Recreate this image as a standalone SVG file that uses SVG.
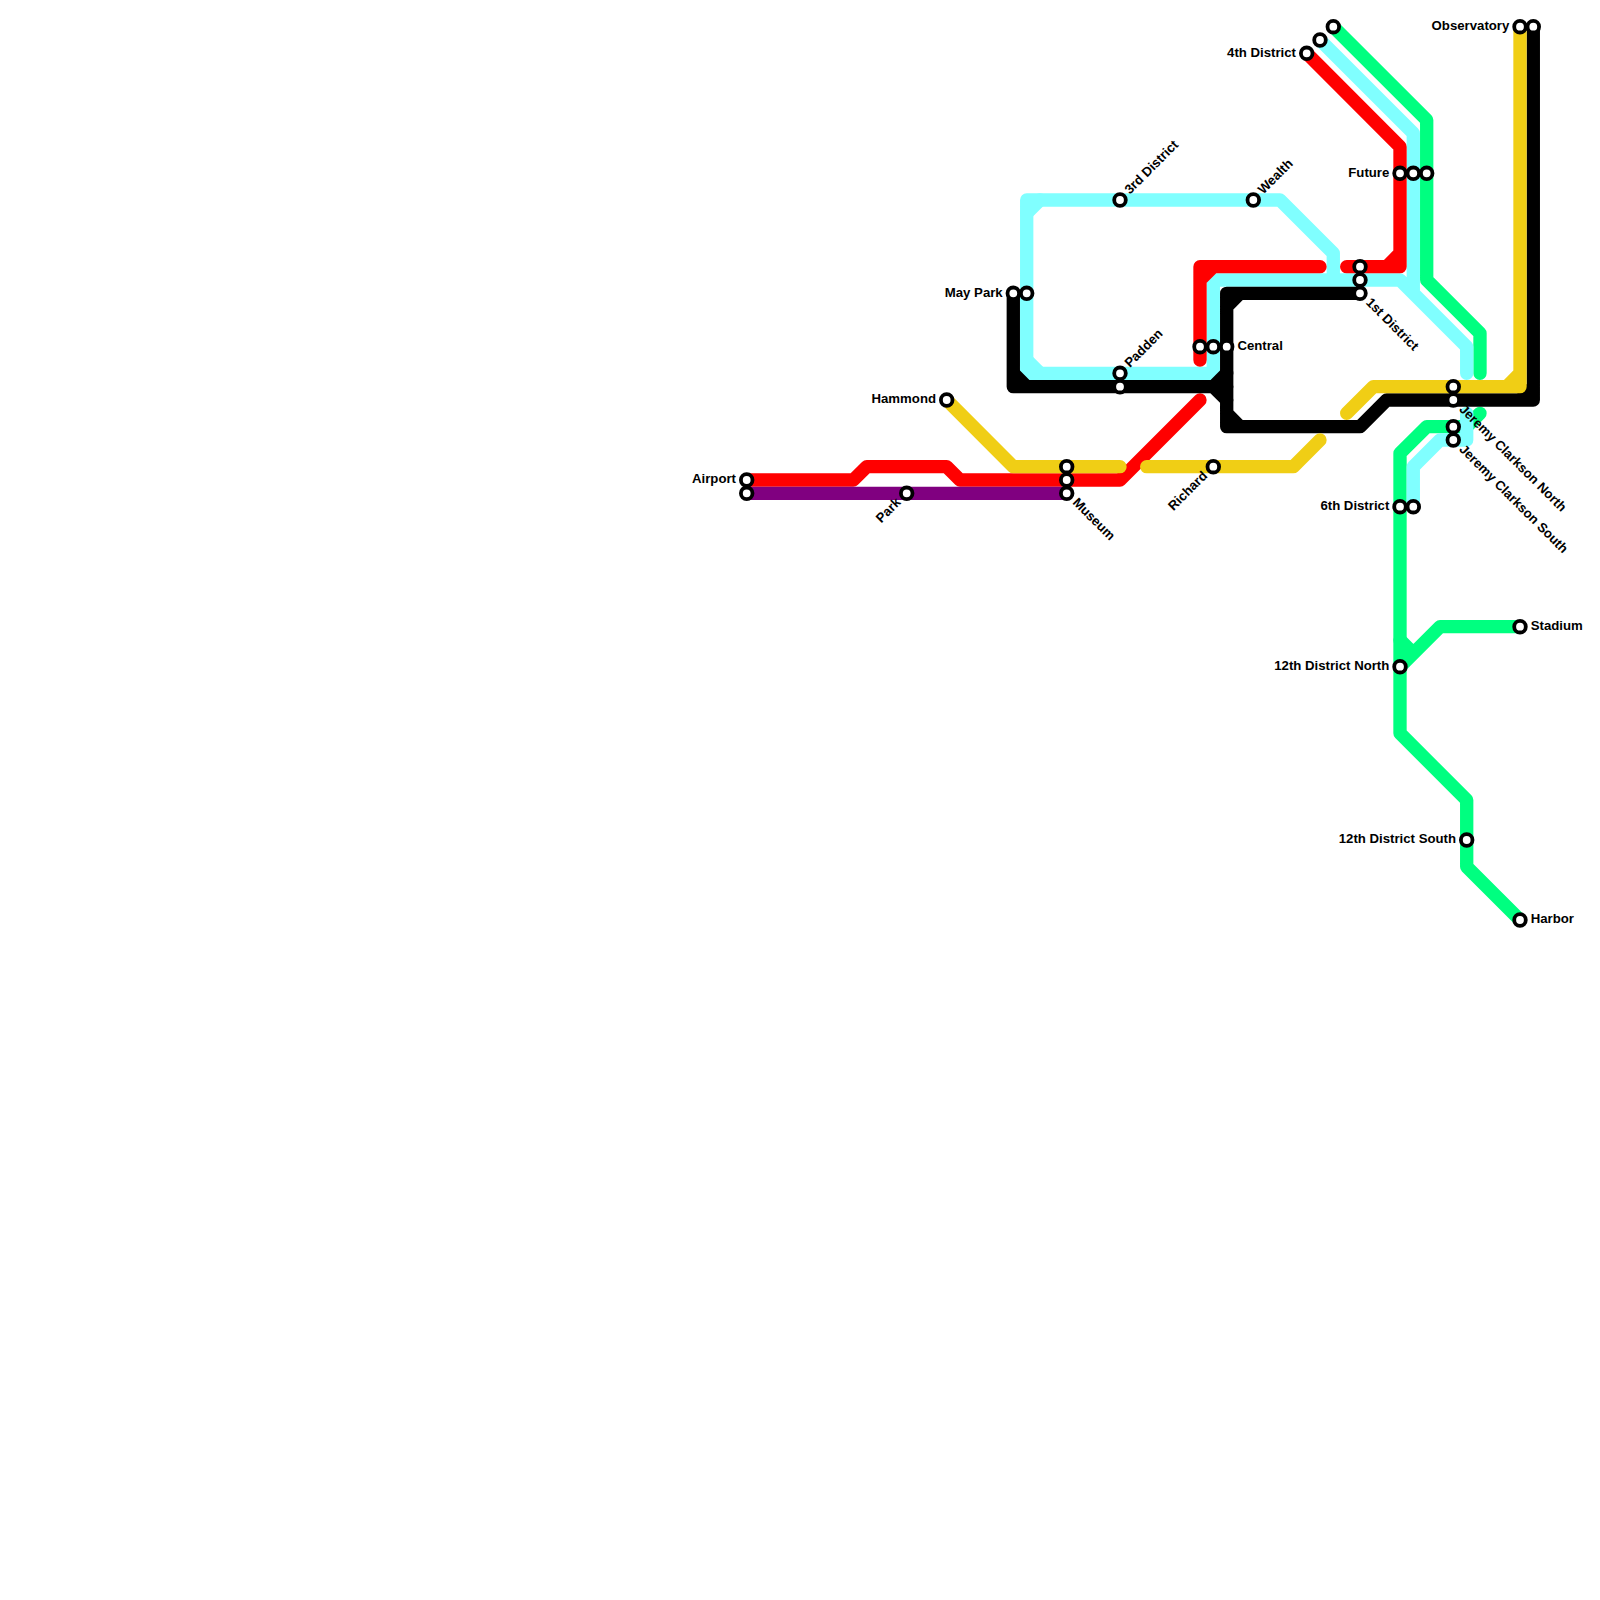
<svg xmlns="http://www.w3.org/2000/svg" width="1600" height="1600" viewBox="0 0 1600 1600">
<style>
.l{fill:none;stroke-width:13.33;stroke-linecap:round;stroke-linejoin:round}
.g{stroke:#00ff80}.c{stroke:#80ffff}.r{stroke:#ff0000}.y{stroke:#f0ce15}.p{stroke:#800080}.b{stroke:#000}
.s{fill:#fff;stroke:#000;stroke-width:3.8}
text{font-family:"Liberation Sans",Arial,sans-serif;font-size:13.2px;font-weight:bold;fill:#000}
.e{text-anchor:end}
</style>
<defs><circle id="st" class="s" r="5.8"/></defs>
<rect width="1600" height="1600" fill="#fff"/>
<g id="connectors">
<path class="l g" d="M1333.3 26.7L1426.7 120V280L1480 333.3V373.3"/>
<path class="l g" d="M1480 413.3L1466.7 426.7H1426.7L1400 453.3V733.3L1466.7 800V866.7L1520 920"/>
<path class="l g" d="M1520 626.7H1440L1400 666.7M1400 640L1413.3 653.3"/>
<path class="l c" d="M1320 40L1413.3 133.3V293.3M1333.3 280V253.3L1280 200H1026.7V373.3H1213.3V280H1400L1466.7 346.7V373.3"/>
<path class="l c" d="M1026.7 213.3L1040 200M1026.7 360L1040 373.3"/>
<path class="l c" d="M1466.7 413.3V440H1440L1413.3 466.7V506.7"/>
<path class="l r" d="M1306.7 53.3L1400 146.7V266.7H1346.7M1386.7 266.7L1400 253.3"/>
<path class="l r" d="M1320 266.7H1200V360M1200 280L1213.3 266.7"/>
<path class="l r" d="M746.7 480H853.3L866.7 466.7H946.7L960 480H1120L1200 400"/>
<path class="l p" d="M746.7 493.3H1066.7"/>
<path class="l b" d="M1013.3 293.3V386.7H1226.7M1013.3 373.3L1026.7 386.7M1213.3 386.7L1226.7 373.3M1213.3 386.7L1226.7 400"/>
<path class="l b" d="M1360 293.3H1226.7V426.7H1360L1386.7 400H1533.3V26.7M1226.7 306.7L1240 293.3M1226.7 413.3L1240 426.7M1520 400L1533.3 386.7"/>
<path class="l y" d="M946.7 400L1013.3 466.7H1120"/>
<path class="l y" d="M1146.7 466.7H1293.3L1320 440"/>
<path class="l y" d="M1346.7 413.3L1373.3 386.7H1520V26.7M1506.7 386.7L1520 373.3"/>
</g>
<g id="airport"><use href="#st" x="746.7" y="480"/><text class="e" x="736" y="483.3">Airport</text></g>
<g id="airport-2"><use href="#st" x="746.7" y="493.3"/></g>
<g id="park"><use href="#st" x="906.7" y="493.3"/><text class="e" transform="translate(906.7 493.3) rotate(-45)" x="-10.67" y="3.3">Park</text></g>
<g id="hammond"><use href="#st" x="946.7" y="400"/><text class="e" x="936" y="403.3">Hammond</text></g>
<g id="museum"><use href="#st" x="1066.7" y="466.7"/><use href="#st" x="1066.7" y="480"/><use href="#st" x="1066.7" y="493.3"/><text transform="translate(1066.7 493.3) rotate(45)" x="10.67" y="3.3">Museum</text></g>
<g id="may-park"><use href="#st" x="1013.3" y="293.3"/><use href="#st" x="1026.7" y="293.3"/><text class="e" x="1002.7" y="296.6">May Park</text></g>
<g id="third-district"><use href="#st" x="1120" y="200"/><text transform="translate(1120 200) rotate(-45)" x="10.67" y="3.3">3rd District</text></g>
<g id="padden"><use href="#st" x="1120" y="373.3"/><use href="#st" x="1120" y="386.7"/><text transform="translate(1120 373.3) rotate(-45)" x="10.67" y="3.3">Padden</text></g>
<g id="central"><use href="#st" x="1200" y="346.7"/><use href="#st" x="1213.3" y="346.7"/><use href="#st" x="1226.7" y="346.7"/><text x="1237.4" y="350">Central</text></g>
<g id="richard"><use href="#st" x="1213.3" y="466.7"/><text class="e" transform="translate(1213.3 466.7) rotate(-45)" x="-10.67" y="3.3">Richard</text></g>
<g id="wealth"><use href="#st" x="1253.3" y="200"/><text transform="translate(1253.3 200) rotate(-45)" x="10.67" y="3.3">Wealth</text></g>
<g id="fourth-district"><use href="#st" x="1306.7" y="53.3"/><use href="#st" x="1320" y="40"/><use href="#st" x="1333.3" y="26.7"/><text class="e" x="1296" y="56.6">4th District</text></g>
<g id="first-district"><use href="#st" x="1360" y="266.7"/><use href="#st" x="1360" y="280"/><use href="#st" x="1360" y="293.3"/><text transform="translate(1360 293.3) rotate(45)" x="10.67" y="3.3">1st District</text></g>
<g id="future"><use href="#st" x="1400" y="173.3"/><use href="#st" x="1413.3" y="173.3"/><use href="#st" x="1426.7" y="173.3"/><text class="e" x="1389.3" y="176.6">Future</text></g>
<g id="observatory"><use href="#st" x="1520" y="26.7"/><use href="#st" x="1533.3" y="26.7"/><text class="e" x="1509.3" y="30">Observatory</text></g>
<g id="jeremy-clarkson-north"><use href="#st" x="1453.3" y="386.7"/><use href="#st" x="1453.3" y="400"/><text transform="translate(1453.3 400) rotate(45)" x="10.67" y="3.3">Jeremy Clarkson North</text></g>
<g id="jeremy-clarkson-south"><use href="#st" x="1453.3" y="426.7"/><use href="#st" x="1453.3" y="440"/><text transform="translate(1453.3 440) rotate(45)" x="10.67" y="3.3">Jeremy Clarkson South</text></g>
<g id="sixth-district"><use href="#st" x="1400" y="506.7"/><use href="#st" x="1413.3" y="506.7"/><text class="e" x="1389.3" y="510">6th District</text></g>
<g id="stadium"><use href="#st" x="1520" y="626.7"/><text x="1530.7" y="630">Stadium</text></g>
<g id="twelfth-north"><use href="#st" x="1400" y="666.7"/><text class="e" x="1389.3" y="670">12th District North</text></g>
<g id="twelfth-south"><use href="#st" x="1466.7" y="840"/><text class="e" x="1456" y="843.3">12th District South</text></g>
<g id="harbor"><use href="#st" x="1520" y="920"/><text x="1530.7" y="923.3">Harbor</text></g>
</svg>
